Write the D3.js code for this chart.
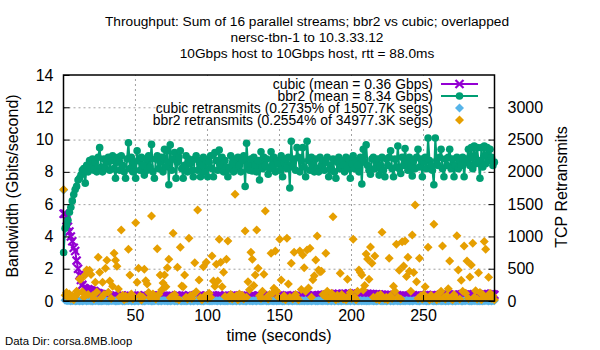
<!DOCTYPE html>
<html>
<head>
<meta charset="utf-8">
<script src="https://cdn.jsdelivr.net/npm/d3@7"></script>
<style>
body { margin: 0; background: #fff; }
text { font-family: "Liberation Sans", Arial, sans-serif; }
</style>
</head>
<body>
<div id="chart"></div>
<script>
"use strict";
let width = 600;
let height = 350;
let margin = {left: 63.5, right: 105.5, top: 75, bottom: 49};

let titleLines = ["Throughput: Sum of 16 parallel streams; bbr2 vs cubic; overlapped",
                  "nersc-tbn-1 to 10.3.33.12",
                  "10Gbps host to 10Gbps host, rtt = 88.0ms"];
let legendLabels = ["cubic (mean = 0.36 Gbps)", "bbr2 (mean = 8.34 Gbps)",
                    "cubic retransmits (0.2735% of 1507.7K segs)", "bbr2 retransmits (0.2554% of 34977.3K segs)"];
let xTicks = [50, 100, 150, 200, 250];
let yTicks = [0, 2, 4, 6, 8, 10, 12, 14];
let y2Ticks = [0, 500, 1000, 1500, 2000, 2500, 3000];

// one sample per second
let seconds = d3.range(300).map(function(i) { return i + 0.5; });

let cubicGbps = [
  5.4,5.4,5.0,4.6,4.3,4.0,3.7,3.3,3.1,2.5, 2.0,1.6,1.3,1.0,0.8,0.75,0.7,0.72,0.68,0.65,
  0.6,0.62,0.55,0.5,0.48,0.45,0.42,0.4,0.38,0.36, .35,.30,.33,.28,.31,.34,.29,.32,.27,.30,
  .33,.29,.31,.26,.30,.34,.28,.31,.29,.32, .30,.27,.33,.29,.31,.28,.35,.30,.26,.32,
  .29,.31,.34,.28,.30,.27,.32,.29,.33,.30, .28,.31,.26,.30,.33,.29,.31,.27,.34,.30,
  .32,.28,.30,.33,.27,.31,.29,.35,.30,.28, .31,.29,.33,.27,.30,.32,.28,.31,.29,.34,
  .30,.27,.32,.29,.31,.33,.28,.30,.35,.29, .31,.28,.33,.30,.27,.32,.29,.31,.34,.30,
  .28,.32,.29,.31,.27,.33,.30,.29,.32,.28, .31,.34,.29,.30,.27,.32,.31,.28,.33,.30,
  .29,.31,.28,.34,.30,.27,.32,.29,.31,.33, .30,.28,.32,.29,.31,.35,.30,.28,.33,.29,
  .31,.30,.34,.28,.32,.29,.33,.31,.30,.35, .32,.29,.34,.31,.36,.30,.33,.35,.31,.37,
  .34,.38,.35,.40,.36,.42,.38,.41,.37,.43, .40,.44,.38,.42,.45,.39,.43,.41,.46,.40,
  .44,.42,.47,.41,.45,.43,.40,.46,.42,.44, .41,.45,.39,.43,.40,.42,.38,.41,.37,.40,
  .36,.39,.35,.38,.34,.37,.33,.36,.32,.35, .31,.34,.30,.33,.29,.32,.35,.30,.33,.31,
  .29,.32,.34,.30,.33,.28,.31,.35,.30,.32, .34,.31,.36,.33,.30,.35,.32,.37,.34,.31,
  .36,.33,.38,.35,.32,.37,.34,.39,.36,.33, .38,.35,.40,.36,.34,.39,.37,.41,.35,.38,
  .40,.36,.42,.38,.35,.41,.37,.43,.39,.36, .41,.38,.43,.40,.37,.42,.39,.44,.40,.38
];

let bbr2Gbps = [
  3.0,4.5,4.7,5.0,5.5,5.8,6.2,6.6,6.9,7.1, 7.5,7.6,7.8,8.1,8.2,7.3,8.4,8.0,8.7,8.2,
  8.8,8.1,8.6,8.0,8.9,9.5,8.3,8.0,8.8,8.2, 8.6,8.9,8.1,8.7,9.0,8.2,7.6,8.6,8.9,8.1,
  9.0,8.4,8.0,7.6,8.8,9.8,8.2,8.9,8.0,8.6, 7.6,9.3,8.7,8.1,8.9,8.4,7.8,8.8,8.1,9.0,
  8.3,9.7,8.0,7.6,8.8,9.0,8.2,8.6,8.9,8.0, 9.4,8.3,9.3,7.2,9.67,8.1,8.8,9.2,7.6,8.6,
  8.9,9.3,8.2,7.6,8.4,9.0,8.0,8.8,8.5,8.1, 7.7,8.8,9.0,8.1,8.7,7.7,8.4,8.9,8.0,8.7,
  7.7,8.6,9.0,8.2,7.7,9.2,8.7,8.1,9.35,8.4, 8.9,8.0,8.7,8.3,7.7,8.2,9.0,8.5,8.0,8.8,
  8.2,8.9,8.4,8.0,8.7,9.0,7.1,9.77,8.4,8.1, 8.8,8.05,8.9,8.4,8.0,8.7,7.5,9.25,8.2,8.9,
  8.4,8.8,7.85,8.2,9.25,8.4,8.9,8.0,8.7,8.5, 8.1,9.0,7.7,8.6,8.8,8.2,8.9,7.0,9.9,8.3,
  8.8,8.1,9.5,8.9,8.0,8.7,9.5,8.3,7.7,9.9, 8.7,8.1,8.9,8.4,8.0,8.8,8.2,8.0,8.9,8.4,
  8.7,8.1,8.6,8.9,7.7,8.4,8.1,8.8,8.0,7.6, 8.6,8.9,8.2,8.7,8.4,8.0,8.9,8.2,8.8,7.6,
  8.5,9.0,8.2,8.7,8.4,8.0,8.9,7.25,9.4,8.6, 9.67,8.4,8.1,7.85,8.8,8.9,8.2,8.6,8.8,7.8,
  8.4,8.9,8.1,7.7,8.8,8.4,8.9,9.3,8.2,7.7, 8.8,8.3,9.6,8.2,7.9,8.9,8.4,9.45,8.7,8.1,
  8.9,8.4,7.75,8.7,8.2,8.9,9.4,8.3,8.8,7.7, 8.6,8.9,8.2,10.1,8.7,8.4,8.1,7.2,10.1,8.7,
  8.4,8.9,9.4,8.2,7.7,8.8,8.4,8.9,9.4,8.2, 8.8,7.7,8.4,8.9,8.2,8.7,8.4,8.9,7.7,8.6,
  8.8,9.4,8.4,9.5,8.2,9.6,8.5,9.5,8.7,7.6, 9.5,8.3,9.6,8.5,9.5,8.7,9.4,8.9,8.4,8.6
];

let cubicRetrans = [
  1720,12,6,2,8,0,4,6,0,3, 2,0,5,0,4,8,0,2,6,0,
  0,4,2,8,0,5,0,2,4,6, 0,0,5,2,8,4,0,0,5,2,
  6,0,0,4,2,5,8,0,2,0, 4,5,0,6,2,0,0,4,8,2,
  5,0,0,2,6,4,0,5,0,8, 2,4,0,5,0,2,6,0,4,0,
  8,2,0,5,4,0,2,6,0,5, 0,4,8,0,2,5,0,0,4,6,
  2,0,5,0,8,4,2,0,6,0, 5,2,0,4,0,8,5,0,2,4,
  0,6,0,2,5,4,0,0,8,2, 4,0,5,2,0,6,4,0,2,5,
  8,0,0,4,2,5,0,6,0,2, 5,4,0,0,8,2,0,5,4,0,
  2,6,0,5,0,4,2,0,8,0, 4,5,0,2,6,0,0,4,5,2,
  0,8,2,0,5,4,0,6,0,2, 5,0,4,0,2,8,0,5,2,0,
  6,2,0,4,5,0,8,0,2,4, 0,5,0,6,2,0,4,0,5,8,
  2,0,4,5,0,2,6,0,4,0, 5,8,0,2,0,4,5,0,6,2,
  0,4,0,5,8,2,0,0,4,6, 2,5,0,0,4,8,2,0,5,0,
  4,6,0,2,5,0,4,0,8,2, 0,5,0,4,2,6,0,0,5,4,
  8,2,0,0,5,4,6,0,2,0, 5,0,4,8,2,0,5,0,4,2
];

let bbr2Retrans = [
  1725,90,130,60,110,40,80,20,70,150, 120,341,336,144,60,403,480,100,475,410,
  80,30,290,140,677,444,50,290,100,506, 630,135,310,40,228,739,630,537,186,60,
  1100,90,20,77,40,800,403,110,30,60, 1210,290,506,80,15,60,491,315,263,130,
  50,1317,108,70,30,810,100,403,170,279, 403,222,516,646,50,67,1049,100,40,522,
  20,832,232,222,403,60,30,971,80,40, 100,593,144,1410,325,50,20,531,80,599,
  40,120,60,697,310,227,568,310,956,599, 222,444,70,646,929,40,100,30,60,1653,
  80,20,110,50,90,30,1084,60,299,175, 754,646,240,403,1100,506,80,40,150,413,
  1394,60,30,100,739,120,196,774,150,60, 956,325,40,80,20,971,263,60,584,30,
  754,100,50,20,774,180,712,516,150,790, 200,816,60,330,390,635,1007,480,454,460,
  100,80,739,150,30,60,120,1306,50,20, 90,40,429,100,30,60,20,336,80,130,
  40,956,60,20,150,480,440,403,170,240, 728,651,336,836,584,60,697,30,80,20,
  100,1064,50,30,60,20,661,80,40,230, 150,878,60,475,30,919,542,929,380,677,
  460,150,1022,440,1487,299,40,661,80,30, 100,220,60,832,20,90,40,1188,60,20,
  110,40,150,852,60,30,80,190,620,40, 20,100,60,1012,480,30,320,150,852,120,
  620,40,370,558,893,60,160,30,438,130, 20,100,920,800,60,367,120,40,80,20
];

let colCubic = "#9400d3";
let colBbr2 = "#009e73";
let colCubicRetr = "#56b4e9";
let colBbr2Retr = "#e69f00";

let plotW = width - margin.left - margin.right;
let plotH = height - margin.top - margin.bottom;

let xScale = d3.scaleLinear().domain([0.4, 299.6]).range([margin.left, margin.left + plotW]);
let yScale = d3.scaleLinear().domain([0, 14]).range([margin.top + plotH, margin.top]);
let y2Scale = d3.scaleLinear().domain([0, 3500]).range([margin.top + plotH, margin.top]);

let svg = d3.select("#chart").append("svg")
            .attr("width", width)
            .attr("height", height);

svg.append("rect").attr("width", width).attr("height", height).attr("fill", "#fff");

// Grid
svg.append("g")
   .attr("class", "grid")
   .attr("transform", "translate(0," + (margin.top + plotH) + ")")
   .call(d3.axisBottom(xScale).tickValues(xTicks).tickSize(-plotH).tickFormat(""));
svg.append("g")
   .attr("class", "grid")
   .attr("transform", "translate(" + margin.left + ",0)")
   .call(d3.axisLeft(yScale).tickValues(yTicks.slice(1, -1)).tickSize(-plotW).tickFormat(""));
svg.selectAll(".grid .domain").remove();
svg.selectAll(".grid line")
   .attr("stroke", "#a0a0a0")
   .attr("stroke-width", 1)
   .attr("stroke-dasharray", "2,3");

// Legend box (opaque)
svg.append("rect")
   .attr("x", 162).attr("y", 77)
   .attr("width", 326).attr("height", 49)
   .attr("fill", "#fff");

function markerCross(g, x, y, c) {
  g.append("path")
   .attr("d", "M" + (x - 4) + "," + (y - 4) + "l8,8m-8,0l8,-8")
   .attr("stroke", c).attr("stroke-width", 2.2).attr("fill", "none");
}
function markerCircle(g, x, y, c) {
  g.append("circle").attr("cx", x).attr("cy", y).attr("r", 3.8).attr("fill", c);
}
function markerDiamond(g, x, y, c) {
  g.append("path")
   .attr("d", "M" + x + "," + (y - 4.5) + "l4.5,4.5l-4.5,4.5l-4.5,-4.5z")
   .attr("fill", c);
}

let seriesLine = d3.line()
   .x(function(d, i) { return xScale(seconds[i]); })
   .y(function(d) { return yScale(d); });

// cubic throughput
let gCubic = svg.append("g");
gCubic.append("path").datum(cubicGbps)
   .attr("d", seriesLine)
   .attr("fill", "none").attr("stroke", colCubic).attr("stroke-width", 2);
cubicGbps.forEach(function(d, i) { markerCross(gCubic, xScale(seconds[i]), yScale(d), colCubic); });

// bbr2 throughput
let gBbr2 = svg.append("g");
gBbr2.append("path").datum(bbr2Gbps)
   .attr("d", seriesLine)
   .attr("fill", "none").attr("stroke", colBbr2).attr("stroke-width", 2);
bbr2Gbps.forEach(function(d, i) { markerCircle(gBbr2, xScale(seconds[i]), yScale(d), colBbr2); });

// retransmits on y2
let gCR = svg.append("g");
cubicRetrans.forEach(function(d, i) { markerDiamond(gCR, xScale(seconds[i]), y2Scale(d), colCubicRetr); });
let gBR = svg.append("g");
bbr2Retrans.forEach(function(d, i) { markerDiamond(gBR, xScale(seconds[i]), y2Scale(d), colBbr2Retr); });

// Legend
let legendX = 433;
let legendRows = [84, 96, 108, 120];
let legend = svg.append("g");
legendLabels.forEach(function(t, i) {
  legend.append("text")
     .attr("x", legendX).attr("y", legendRows[i] + 4.6)
     .attr("text-anchor", "end")
     .style("font-size", "13.9px")
     .text(t);
});
legend.append("line").attr("x1", 441).attr("x2", 478).attr("y1", legendRows[0]).attr("y2", legendRows[0])
      .attr("stroke", colCubic).attr("stroke-width", 2);
markerCross(legend, 459.5, legendRows[0], colCubic);
legend.append("line").attr("x1", 441).attr("x2", 478).attr("y1", legendRows[1]).attr("y2", legendRows[1])
      .attr("stroke", colBbr2).attr("stroke-width", 2);
markerCircle(legend, 459.5, legendRows[1], colBbr2);
markerDiamond(legend, 459.5, legendRows[2], colCubicRetr);
markerDiamond(legend, 459.5, legendRows[3], colBbr2Retr);

// Axes
let xAxis = d3.axisBottom(xScale).tickValues(xTicks).tickSize(-6).tickPadding(9);
let yAxis = d3.axisLeft(yScale).tickValues(yTicks).tickSize(-6).tickPadding(10);
let y2Axis = d3.axisRight(y2Scale).tickValues(y2Ticks).tickSize(-6).tickPadding(13).tickFormat(d3.format("d"));

svg.append("g").attr("class", "axis")
   .attr("transform", "translate(0," + (margin.top + plotH) + ")")
   .call(xAxis);
svg.append("g").attr("class", "axis")
   .attr("transform", "translate(" + margin.left + ",0)")
   .call(yAxis);
svg.append("g").attr("class", "axis")
   .attr("transform", "translate(" + (margin.left + plotW) + ",0)")
   .call(y2Axis);
svg.selectAll(".axis .domain").remove();
svg.selectAll(".axis line").attr("stroke", "#000").attr("stroke-width", 1);
svg.selectAll(".axis text")
   .style("font-family", "'Liberation Sans', Arial, sans-serif")
   .style("font-size", "16px")
   .attr("fill", "#000");

// Border
svg.append("rect")
   .attr("x", margin.left).attr("y", margin.top)
   .attr("width", plotW).attr("height", plotH)
   .attr("fill", "none").attr("stroke", "#000").attr("stroke-width", 1.5);

// Titles
titleLines.forEach(function(t, i) {
  svg.append("text")
     .attr("x", 307).attr("y", 25.5 + i * 16)
     .attr("text-anchor", "middle")
     .style("font-size", "13.7px")
     .text(t);
});

svg.append("text")
   .attr("x", xScale(150)).attr("y", 341)
   .attr("text-anchor", "middle")
   .style("font-size", "16px")
   .text("time (seconds)");

svg.append("text")
   .attr("transform", "translate(17.5," + 186 + ") rotate(-90)")
   .attr("text-anchor", "middle")
   .style("font-size", "16px")
   .text("Bandwidth (Gbits/second)");

svg.append("text")
   .attr("transform", "translate(567," + 187 + ") rotate(-90)")
   .attr("text-anchor", "middle")
   .style("font-size", "16px")
   .text("TCP Retransmits");

svg.append("text")
   .attr("x", 5).attr("y", 345)
   .style("font-size", "11.4px")
   .text("Data Dir: corsa.8MB.loop");
</script>
</body>
</html>
